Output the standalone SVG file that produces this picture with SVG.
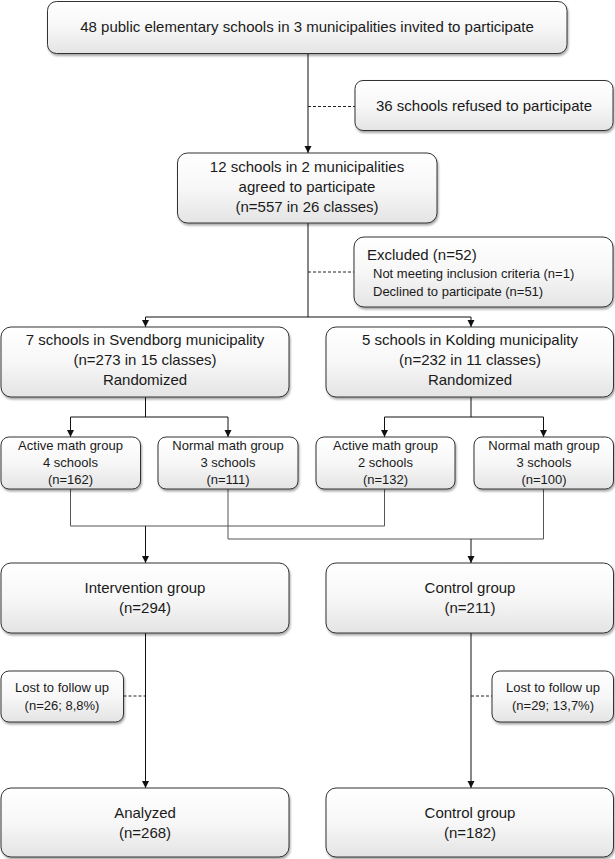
<svg xmlns="http://www.w3.org/2000/svg" width="615" height="859" viewBox="0 0 615 859">
<defs>
<linearGradient id="g" x1="0" y1="0" x2="0" y2="1">
<stop offset="0" stop-color="#ffffff"/>
<stop offset="0.5" stop-color="#f7f7f7"/>
<stop offset="1" stop-color="#e4e4e4"/>
</linearGradient>
<filter id="sh" x="-5%" y="-5%" width="112%" height="120%">
<feGaussianBlur in="SourceAlpha" stdDeviation="1.2"/>
<feOffset dx="1" dy="1.5" result="b"/>
<feComponentTransfer><feFuncA type="linear" slope="0.35"/></feComponentTransfer>
<feMerge><feMergeNode/><feMergeNode in="SourceGraphic"/></feMerge>
</filter>
<marker id="ah" markerWidth="8" markerHeight="8" refX="7" refY="4" orient="auto" markerUnits="userSpaceOnUse">
<path d="M0,0.5 L7,4 L0,7.5 Z" fill="#111"/>
</marker>
</defs>
<style>
.box{fill:url(#g);stroke:#333;stroke-width:1;filter:url(#sh)}
text{font-family:"Liberation Sans",Arial,sans-serif;fill:#1a1a1a}
.t15{font-size:15px;text-anchor:middle}
.t13{font-size:13px;text-anchor:middle}
.s13{font-size:13px}
.s15{font-size:15px}
.ln{fill:none;stroke:#111;stroke-width:1}
.gl{fill:none;stroke:#555;stroke-width:1}
.ar{fill:none;stroke:#111;stroke-width:1;marker-end:url(#ah)}
.ds{fill:none;stroke:#222;stroke-width:1;stroke-dasharray:3,2}
</style>

<g id="connectors">
<path class="ar" d="M308,54 V153"/>
<path class="ds" d="M308,106.5 H355"/>
<path class="ln" d="M308,223 V317"/>
<path class="ds" d="M308,272 H354"/>
<path class="ln" d="M145.5,317 H471"/>
<path class="ar" d="M145.5,317 V327"/>
<path class="ar" d="M471,317 V327"/>
<path class="ln" d="M145.5,397 V417"/>
<path class="ln" d="M70.5,417 H228"/>
<path class="ar" d="M70.5,417 V437"/>
<path class="ar" d="M228,417 V437"/>
<path class="ln" d="M471,397 V417"/>
<path class="ln" d="M384.5,417 H543.5"/>
<path class="ar" d="M384.5,417 V437"/>
<path class="ar" d="M543.5,417 V437"/>
<path class="gl" d="M70.5,489 V526 H384.5 V489"/>
<path class="gl" d="M228,489 V539 H543.5 V489"/>
<path class="ar" d="M145.5,526 V563"/>
<path class="ar" d="M471,539 V563"/>
<path class="ar" d="M145.5,633 V788"/>
<path class="ds" d="M123.5,696 H145.5"/>
<path class="ar" d="M471,633 V788"/>
<path class="ds" d="M471,696 H492"/>
</g>

<g id="invited">
<rect class="box" x="47.5" y="1.5" width="519.5" height="52" rx="9"/>
<text class="t15" x="307" y="32">48 public elementary schools in 3 municipalities invited to participate</text>
</g>
<g id="refused">
<rect class="box" x="355" y="80.5" width="258" height="50" rx="8"/>
<text class="t15" x="484" y="111">36 schools refused to participate</text>
</g>
<g id="agreed">
<rect class="box" x="177.5" y="153" width="259.5" height="70" rx="10"/>
<text class="t15" x="307" y="172">12 schools in 2 municipalities</text>
<text class="t15" x="307" y="192">agreed to participate</text>
<text class="t15" x="307" y="212">(n=557 in 26 classes)</text>
</g>
<g id="excluded">
<rect class="box" x="354" y="237" width="259" height="70" rx="10"/>
<text class="s15" x="367" y="260">Excluded (n=52)</text>
<text class="s13" x="373" y="278">Not meeting inclusion criteria (n=1)</text>
<text class="s13" x="373" y="296">Declined to participate (n=51)</text>
</g>
<g id="svendborg">
<rect class="box" x="1" y="327" width="288" height="70" rx="10"/>
<text class="t15" x="145" y="345">7 schools in Svendborg municipality</text>
<text class="t15" x="145" y="365">(n=273 in 15 classes)</text>
<text class="t15" x="145" y="385">Randomized</text>
</g>
<g id="kolding">
<rect class="box" x="326" y="327" width="287.5" height="70" rx="10"/>
<text class="t15" x="470" y="345">5 schools in Kolding municipality</text>
<text class="t15" x="470" y="365">(n=232 in 11 classes)</text>
<text class="t15" x="470" y="385">Randomized</text>
</g>
<g id="active-svendborg">
<rect class="box" x="1" y="437" width="139.5" height="52" rx="8"/>
<text class="t13" x="70.5" y="450">Active math group</text>
<text class="t13" x="70.5" y="467">4 schools</text>
<text class="t13" x="70.5" y="484">(n=162)</text>
</g>
<g id="normal-svendborg">
<rect class="box" x="158" y="437" width="140" height="52" rx="8"/>
<text class="t13" x="228" y="450">Normal math group</text>
<text class="t13" x="228" y="467">3 schools</text>
<text class="t13" x="228" y="484">(n=111)</text>
</g>
<g id="active-kolding">
<rect class="box" x="316" y="437" width="139" height="52" rx="8"/>
<text class="t13" x="385.5" y="450">Active math group</text>
<text class="t13" x="385.5" y="467">2 schools</text>
<text class="t13" x="385.5" y="484">(n=132)</text>
</g>
<g id="normal-kolding">
<rect class="box" x="474" y="437" width="139.5" height="52" rx="8"/>
<text class="t13" x="544" y="450">Normal math group</text>
<text class="t13" x="544" y="467">3 schools</text>
<text class="t13" x="544" y="484">(n=100)</text>
</g>
<g id="intervention">
<rect class="box" x="1" y="563" width="288" height="70" rx="10"/>
<text class="t15" x="145" y="593">Intervention group</text>
<text class="t15" x="145" y="613">(n=294)</text>
</g>
<g id="control">
<rect class="box" x="326" y="563" width="287.5" height="70" rx="10"/>
<text class="t15" x="470" y="593">Control group</text>
<text class="t15" x="470" y="613">(n=211)</text>
</g>
<g id="lost-intervention">
<rect class="box" x="1" y="671" width="122.5" height="51" rx="8"/>
<text class="t13" x="62" y="692">Lost to follow up</text>
<text class="t13" x="62" y="710">(n=26; 8,8%)</text>
</g>
<g id="lost-control">
<rect class="box" x="492" y="671" width="121.5" height="51" rx="8"/>
<text class="t13" x="553" y="692">Lost to follow up</text>
<text class="t13" x="553" y="710">(n=29; 13,7%)</text>
</g>
<g id="analyzed">
<rect class="box" x="1" y="788" width="288" height="69" rx="10"/>
<text class="t15" x="145" y="818">Analyzed</text>
<text class="t15" x="145" y="838">(n=268)</text>
</g>
<g id="control-final">
<rect class="box" x="326" y="788" width="287.5" height="69" rx="10"/>
<text class="t15" x="470" y="818">Control group</text>
<text class="t15" x="470" y="838">(n=182)</text>
</g>
</svg>
